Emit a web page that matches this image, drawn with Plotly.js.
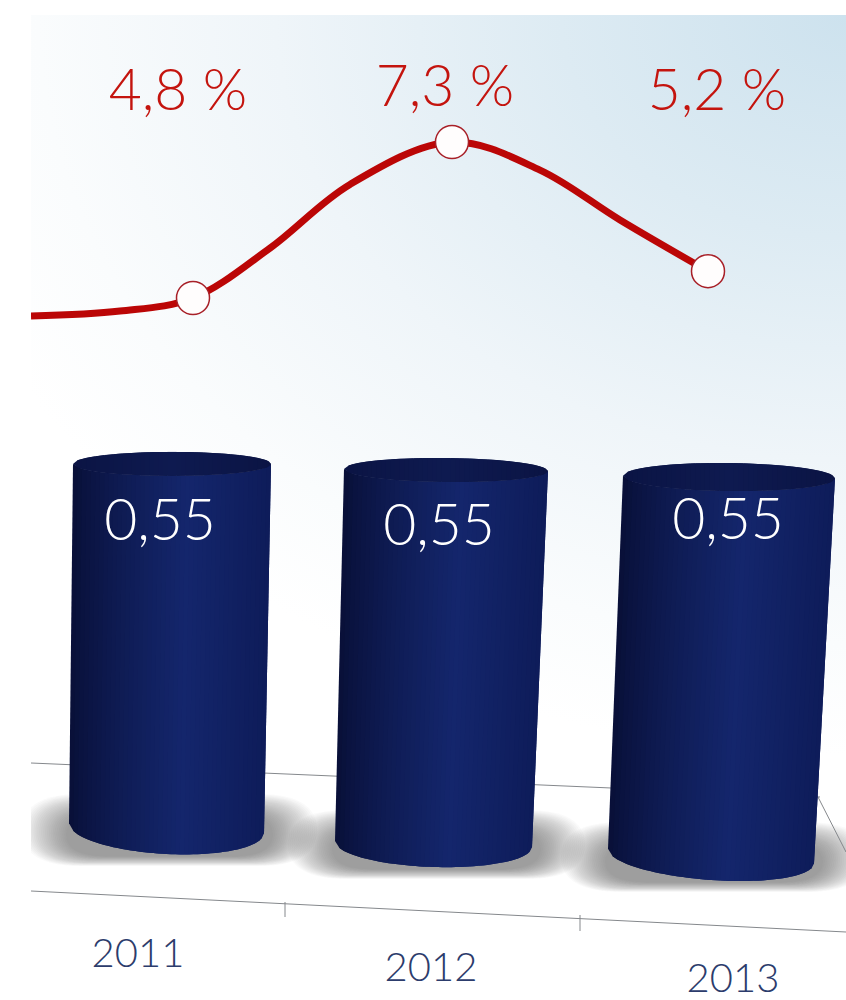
<!DOCTYPE html>
<html><head><meta charset="utf-8">
<script src="https://cdn.plot.ly/plotly-3.0.1.min.js"></script>
<style>
html,body{margin:0;padding:0;background:#fff;width:846px;height:1000px;overflow:hidden}
#bg{position:absolute;left:31px;top:15px;width:815px;height:985px;
background:radial-gradient(ellipse 950px 740px at 815px 0px,#cde2ee 0%,#ddebf3 30%,#eff5f9 60%,#fafcfd 85%,#ffffff 100%)}
#chart{position:absolute;left:0;top:0;width:846px;height:1000px}
</style></head><body>
<div id="bg"></div><div id="chart"></div>
<script>
// ---- data ----
const years = ['2011','2012','2013'];
const barValues = [0.55,0.55,0.55];
const barLabels = ['0,55','0,55','0,55'];
const rateValues = [4.8,7.3,5.23];
const rateLabels = ['4,8 %','7,3 %','5,2 %'];
const curveX = [31,120,193,270,350,452,540,620,708];
const curveRate = [4.51,4.59,4.8,5.6,6.62,7.3,6.85,6.05,5.23];
const rateX = [193,452,708];

// ---- perspective geometry (pixels of the picture) ----
const cyl = [
 {tl:73, tr:271, bl:69, br:264, base:828, pxPerValue:662, ryT:12, ryB:26, tiltT:0.0,  tiltB:0.05},
 {tl:344,tr:548, bl:335,br:532, base:844, pxPerValue:680, ryT:12, ryB:23, tiltT:0.01, tiltB:0.03},
 {tl:623,tr:835, bl:608,br:814, base:856, pxPerValue:689, ryT:14, ryB:24, tiltT:0.012,tiltB:0.07}
];
const yearPos = [[138,957],[431,971],[733,982]];
const barLabelPos = [[160,526],[439,531],[728,525]];
const rateLabelX = [178,445,717], rateLabelY = [96,92,96];

const traces = [];
const floorLines = [
 [[31,820],[763,797]], [[818,846],[797,852]],
 [[31,846],[891,932]],
 [[285,285],[902,917]], [[580,580],[915,931]]
];
floorLines.forEach(l=>traces.push({type:'scatter',mode:'lines',x:l[0],y:l[1],hoverinfo:'skip',showlegend:false,
  line:{color:'#85888c',width:1}}));

function mix(a,b,t){return a.map((v,i)=>Math.round(v+(b[i]-v)*t));}
function bodyColor(t){ // t: -1 .. 1 across the cylinder
  const L=[8,15,54],M=[20,38,108],R=[14,28,90];
  const c = t<0.15 ? mix(L,M,Math.pow((t+1)/1.15,0.75)) : mix(M,R,(t-0.15)/0.85);
  return 'rgb('+c.join(',')+')';
}
function capColor(t){
  const L=[11,20,68],M=[14,26,80],R=[11,20,68];
  const c = t<0 ? mix(L,M,t+1) : mix(M,R,t);
  return 'rgb('+c.join(',')+')';
}
const N=44;
const noLine={color:'rgba(0,0,0,0)',width:0};
cyl.forEach((c,i)=>{
  const top=c.base-barValues[i]*c.pxPerValue;
  const pt=(t,isTop,sign)=>{
    const cx=isTop?(c.tl+c.tr)/2:(c.bl+c.br)/2, rx=isTop?(c.tr-c.tl)/2:(c.br-c.bl)/2;
    const y0=isTop?top:c.base, ry=isTop?c.ryT:c.ryB, tilt=isTop?c.tiltT:c.tiltB;
    return [cx+t*rx, y0+sign*ry*Math.sqrt(Math.max(0,1-t*t))+tilt*t*rx];
  };
  for(let k=0;k<N;k++){
    const a=-1+2*k/N,b=Math.min(1,a+4/N),e=a+1/N,mid=(a+b)/2;
    // each strip overlaps the next one, so that no seams show
    const poly=[pt(b,true,1),pt(b,false,1),pt(mid,false,1),pt(a,false,1),pt(a,true,1)];
    traces.push({type:'scatter',mode:'lines',fill:'toself',hoverinfo:'skip',showlegend:false,
      x:poly.map(p=>p[0]),y:poly.map(p=>p[1]),fillcolor:bodyColor(e),line:noLine});
  }
  for(let k=0;k<N;k++){
    const a=-1+2*k/N,b=Math.min(1,a+4/N),e=a+1/N,mid=(a+b)/2;
    const cap=[pt(a,true,-1),pt(mid,true,-1),pt(b,true,-1),pt(b,true,1),pt(mid,true,1),pt(a,true,1)];
    traces.push({type:'scatter',mode:'lines',fill:'toself',hoverinfo:'skip',showlegend:false,
      x:cap.map(p=>p[0]),y:cap.map(p=>p[1]),fillcolor:capColor(e),line:noLine});
  }
});

// rate curve on its own value axis
traces.push({type:'scatter',mode:'lines',x:curveX,y:curveRate,yaxis:'y2',hoverinfo:'skip',showlegend:false,
  line:{color:'#bb0606',width:7,shape:'spline',smoothing:1}});
traces.push({type:'scatter',mode:'markers',x:rateX,y:rateValues,yaxis:'y2',name:'rate',showlegend:false,
  marker:{size:33,color:'#fffdfd',line:{color:'#a82028',width:1.5}}});

const fam='Lato, "Open Sans", sans-serif';
traces.push({type:'scatter',mode:'text',x:rateLabelX,y:rateLabelY,text:rateLabels,textposition:'middle center',
  hoverinfo:'skip',showlegend:false,textfont:{family:fam,size:57,weight:300,color:'#c4140e'}});
traces.push({type:'scatter',mode:'text',x:barLabelPos.map(p=>p[0]),y:barLabelPos.map(p=>p[1]),text:barLabels,
  textposition:'middle center',hoverinfo:'skip',showlegend:false,textfont:{family:fam,size:57,weight:300,color:'#ffffff'}});
traces.push({type:'scatter',mode:'text',x:yearPos.map(p=>p[0]),y:yearPos.map(p=>p[1]),text:years,
  textposition:'middle center',hoverinfo:'skip',showlegend:false,textfont:{family:fam,size:40,weight:300,color:'#2c3c6c'}});

// soft floor shadows: nested rounded patches
const shapes=[];
const LAYERS=24, SPREAD=46;
cyl.forEach(c=>{
  const cx=(c.bl+c.br)/2+3, rx=(c.br-c.bl)/2;
  for(let j=0;j<LAYERS;j++){
    const f=1-j/LAYERS;
    const x0=cx-rx-4-SPREAD*f,x1=cx+rx+4+SPREAD*f,y0=c.base-14-20*f,y1=c.base+c.ryB+2+10*f;
    const ym=(y0+y1)/2, k=(x1-x0)*0.2;
    shapes.push({type:'path',layer:'below',xref:'x',yref:'y',line:{width:0},fillcolor:'rgba(72,68,62,0.028)',
      path:`M ${x0} ${ym} Q ${x0} ${y0} ${x0+k} ${y0} L ${x1-k} ${y0} Q ${x1} ${y0} ${x1} ${ym} Q ${x1} ${y1} ${x1-k} ${y1} L ${x0+k} ${y1} Q ${x0} ${y1} ${x0} ${ym} Z`});
  }
});

const layout={width:846,height:1000,margin:{l:31,r:0,t:15,b:0,pad:0},
  paper_bgcolor:'rgba(0,0,0,0)',plot_bgcolor:'rgba(0,0,0,0)',showlegend:false,hovermode:false,shapes:shapes,
  xaxis:{range:[31,846],visible:false,fixedrange:true},
  yaxis:{range:[1000,15],visible:false,fixedrange:true},
  yaxis2:{range:[4.8-702/62.4,4.8+283/62.4],overlaying:'y',visible:false,fixedrange:true}
};
Plotly.newPlot('chart',traces,layout,{displayModeBar:false,staticPlot:true});
</script></body></html>
